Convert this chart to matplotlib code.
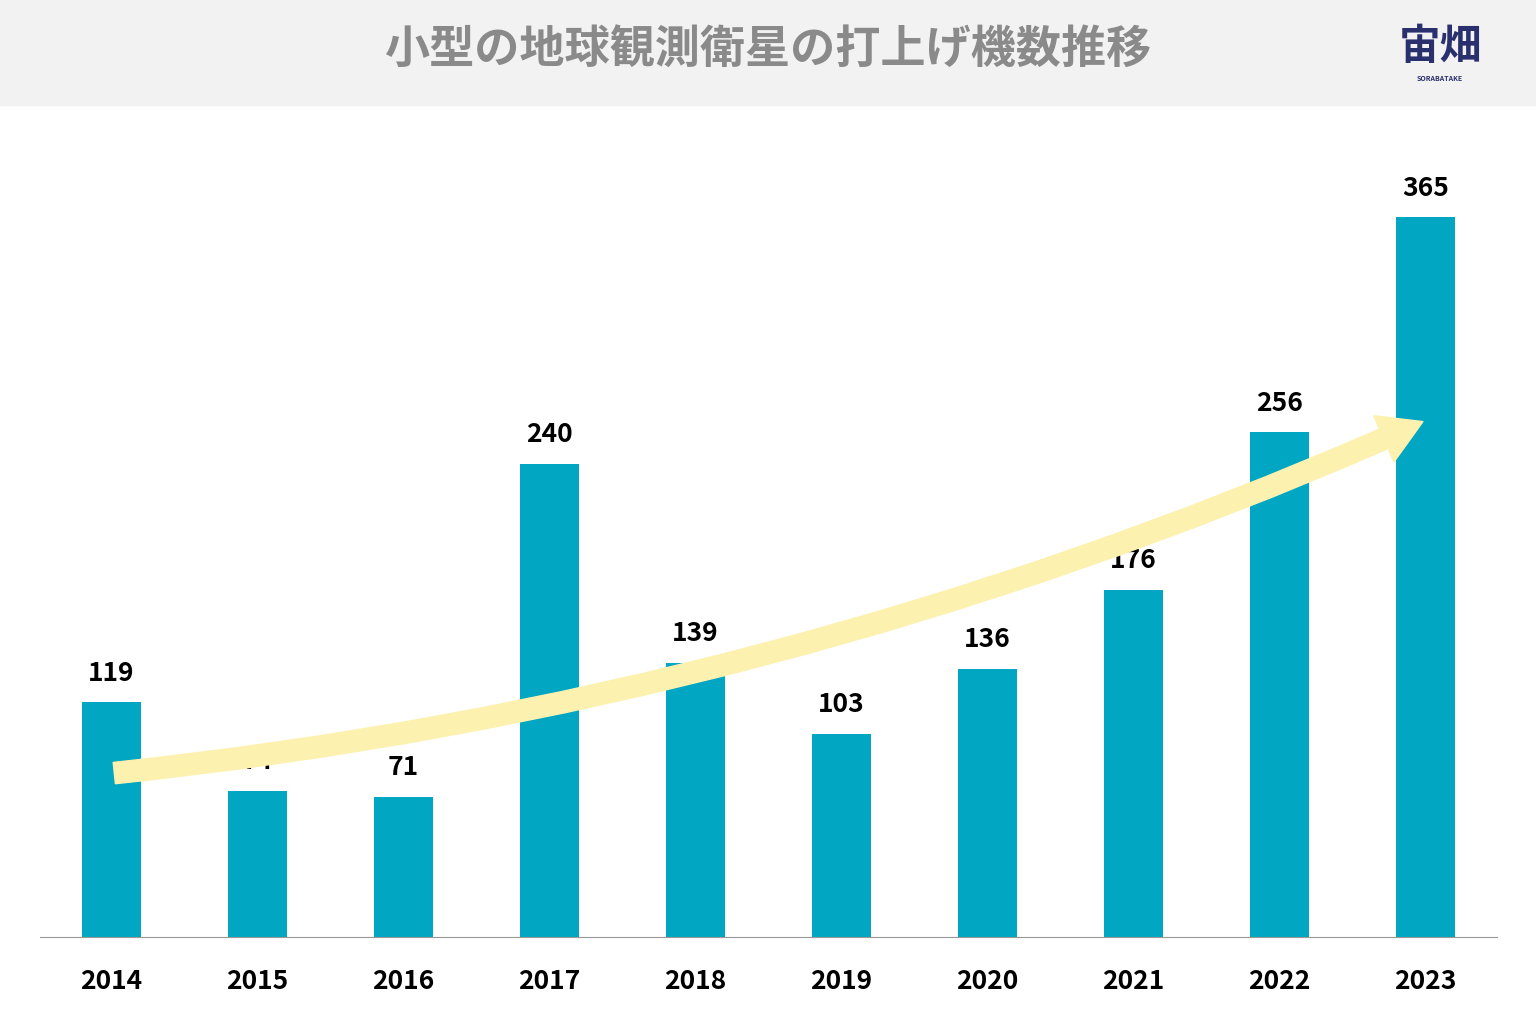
import matplotlib
matplotlib.use("Agg")
from matplotlib import pyplot as plt
from matplotlib.patches import FancyArrowPatch, Rectangle

plt.rcParams['font.family'] = ['Noto Sans CJK JP', 'DejaVu Sans']

years = ['2014', '2015', '2016', '2017', '2018', '2019', '2020', '2021', '2022', '2023']
launches = [119, 74, 71, 240, 139, 103, 136, 176, 256, 365]
trend_start = (0, 83)
trend_end = (9, 262)

fig = plt.figure(figsize=(15.36, 10.22), dpi=100)
fig.patches.append(Rectangle((0, 1 - 105 / 1022), 1, 105 / 1022, transform=fig.transFigure,
                             color='#f2f2f2', zorder=0))
fig.text(0.5, 1 - 50 / 1022, '小型の地球観測衛星の打上げ機数推移', ha='center', va='center',
         fontsize=32.5, fontweight='bold', color='#8a8a8a')
fig.text(1440 / 1536, 1 - 47 / 1022, '宙畑', ha='center', va='center', fontsize=30,
         color='#2a2f6e', fontweight='bold', style='italic')
fig.text(1440 / 1536, 1 - 78 / 1022, 'SORABATAKE', ha='center', va='center', fontsize=5,
         color='#2a2f6e', fontweight='bold')

ax = fig.add_axes([40 / 1536, 1 - 937 / 1022, 1457 / 1536, 832 / 1022])
x = list(range(len(years)))
ax.bar(x, launches, width=0.4, color='#00a6c2', zorder=2)
for xi, v in zip(x, launches):
    ax.text(xi, v + 8, str(v), ha='center', va='bottom', fontsize=19, fontweight='bold', zorder=1)

arrow = FancyArrowPatch(trend_start, trend_end, connectionstyle='arc3,rad=0.08',
                        arrowstyle='simple,head_width=2.6,head_length=2.2,tail_width=1.1',
                        mutation_scale=14, color='#fdf1b0', zorder=3)
ax.add_patch(arrow)

ax.set_xlim(-0.49, 9.49)
ax.set_ylim(0, 422)
ax.set_xticks(x)
ax.set_xticklabels(years, fontsize=19, fontweight='bold')
ax.tick_params(length=0, pad=22)
ax.set_yticks([])
for s in ['top', 'left', 'right']:
    ax.spines[s].set_visible(False)
ax.spines['bottom'].set_color('#999999')
ax.patch.set_alpha(0)

fig.savefig('out.png', dpi=100)
